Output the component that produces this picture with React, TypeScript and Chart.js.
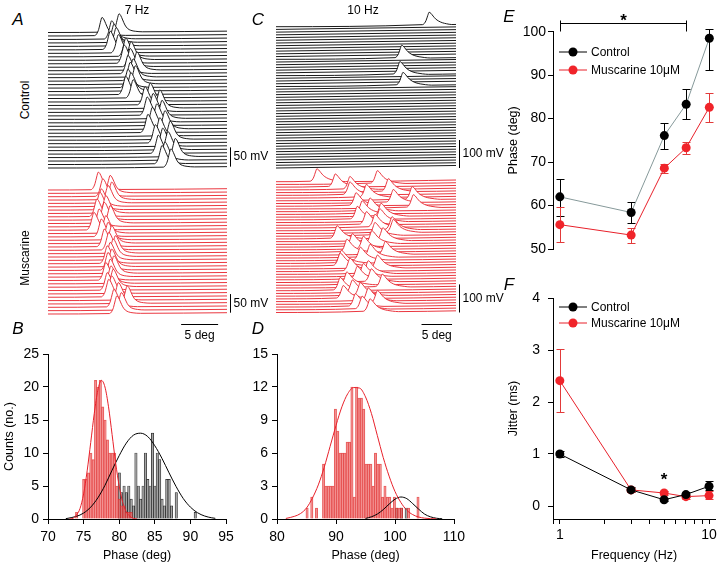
import React, { useEffect, useRef } from 'react';
import { Chart, registerables } from 'chart.js';

Chart.register(...registerables);
const FONT = '"Liberation Sans", Arial, Helvetica, sans-serif';
Chart.defaults.font.family = FONT;
Chart.defaults.color = '#000';

// ================= DATA =================
// Panels A / C : phase of the spike peak in each sweep (deg from sweep start), top sweep first
const A_CTRL_SPIKES = [9.6, 7.3, 8.6, 8.9, 9.2, 8.4, 9.5, 10.5, 11.2, 10.3, 11.1, 12.0, 10.8, 11.5, 11.1, 11.8, 10.8, 11.2, 10.5, 11.5, 13.8, 13.1, 15.1, 14.2, 13.4, 15.4, 14.7, 14.1, 15.8, 13.5, 15.1, 16.5, 14.5, 15.5, 16.2, 14.9, 17.2, 15.8, 15.4, 16.6];
const A_MUSC_SPIKES = [6.8, 8.4, 7.4, 8.6, 8.1, 7.2, 7.0, 7.8, 6.6, 7.6, 8.4, 6.9, 6.2, 7.8, 7.2, 8.1, 8.6, 7.6, 8.2, 9.1, 8.8, 8.4, 8.0, 8.6, 8.1, 8.9, 8.4, 7.8, 8.5, 8.8, 8.0, 8.6, 8.2, 9.5, 10.7, 8.9, 9.9, 9.3];
const C_CTRL_SWEEPS = 53;
const C_CTRL_SPIKE_SWEEP = [0, 12, 18, 22];
const C_CTRL_SPIKE_PHASE = [25.1, 20.6, 20.3, 20.8];
const C_MUSC_SPIKES = [6.7, 16.6, 9.7, 12.1, 18.4, 12.1, 14.8, 22.3, 19.2, 13.1, 22.5, 15.4, 14.1, 17.2, 13.3, 17.0, 14.8, 16.2, 19.0, 19.2, 16.2, 10.0, 17.5, 15.7, 12.5, 14.3, 11.6, 17.9, 15.4, 13.8, 10.7, 10.5, 16.6, 12.1, 15.1, 14.3, 13.3, 15.6, 11.6, 17.4, 10.5, 12.5, 13.8, 11.0, 15.1, 16.6, 13.0, 14.1, 15.4];

// spike waveforms (deg relative to peak, mV above baseline)
const SPIKE_A_DX = [-1.0, -0.7, -0.45, -0.22, 0, 0.22, 0.5, 0.8, 1.15, 1.6, 2.2, 3.2];
const SPIKE_A_MV = [0, 5, 16, 34, 47, 43, 31, 18, 9, 4, 1.5, 0];
const SPIKE_C_DX = [-1.1, -0.8, -0.5, -0.22, 0, 0.28, 0.65, 1.05, 1.55, 2.15, 2.85, 3.7, 4.7];
const SPIKE_C_MV = [0, 4, 15, 33, 44, 40, 30, 20, 12, 6, 2, -1, -3];

const A_SWEEP_DEG = 24.2;
const C_SWEEP_DEG = 29.5;
const A_SWEEP_STEP_MV = 9;
const C_SWEEP_STEP_MV = 9.7;
const A_DRIFT_MV = 3.5;
const C_DRIFT_MV = 9;
const A_VBAR_MV = 50;
const C_VBAR_MV = 100;
const HBAR_DEG = 5;

// Panel B histogram (7 Hz)
const B_BIN_START = 73.85;
const B_BIN_WIDTH = 1 / 3;
const B_MUSC_COUNTS = [1, 0, 0, 6, 6, 7, 10, 9, 21, 20, 21, 17, 15, 12, 10, 10, 10, 5, 3, 2, 2, 1, 1, 1];
const B_CTRL_FIRST_BIN = 18;
const B_CTRL_COUNTS = [7, 4, 5, 4, 5, 3, 2, 10, 5, 3, 5, 10, 6, 5, 13, 5, 10, 9, 3, 2, 6, 6, 2, 0, 4, 0, 0, 0, 0, 0, 0, 0, 1];
const B_MUSC_FIT_X = [73, 73.5, 74, 74.5, 75, 75.5, 76, 76.5, 77, 77.5, 78, 78.5, 79, 79.5, 80, 80.5, 81, 81.5, 82, 82.5];
const B_MUSC_FIT_Y = [0, 0.1, 0.6, 1.6, 3.8, 7.3, 11.6, 16, 19.5, 21, 20, 17, 12.8, 8.5, 5, 2.5, 1.1, 0.4, 0.1, 0];
const B_CTRL_FIT_X = [72.5, 74, 75, 76, 77, 78, 79, 80, 81, 82, 83, 84, 85, 86, 87, 88, 89, 90, 91, 92, 93, 93.5];
const B_CTRL_FIT_Y = [0.05, 0.4, 0.9, 1.8, 3.2, 5.1, 7.4, 9.6, 11.5, 12.7, 13, 12.5, 11.1, 9.2, 7.0, 4.9, 3.1, 1.8, 0.95, 0.45, 0.18, 0.1];

// Panel D histogram (10 Hz)
const D_BIN_START = 84.9;
const D_BIN_WIDTH = 0.4;
const D_MUSC_COUNTS = [1, 0, 2, 0, 1, 0, 0, 5, 3, 3, 3, 3, 10, 8, 6, 6, 6, 7, 7, 12, 2, 12, 11, 11, 10, 5, 5, 5, 3, 6, 5, 5, 2, 3, 2, 2, 1, 2, 1, 1, 1, 0, 0, 1, 0, 0, 0, 2];
const D_CTRL_FIRST_BIN = 38;
const D_CTRL_COUNTS = [1, 0, 1, 0, 1];
const D_MUSC_FIT_X = [81.5, 83, 84, 85, 86, 87, 88, 89, 90, 91, 92, 93, 94, 95, 96, 97, 98, 99, 100, 101, 102, 103, 104, 105, 106, 107];
const D_MUSC_FIT_Y = [0.05, 0.25, 0.5, 1.0, 1.9, 3.1, 4.7, 6.6, 8.5, 10.2, 11.4, 11.95, 11.9, 11.1, 9.6, 7.6, 5.6, 3.9, 2.5, 1.5, 0.8, 0.4, 0.18, 0.08, 0.03, 0.01];
const D_CTRL_FIT_X = [95, 96, 97, 98, 99, 100, 101, 102, 103, 104, 105, 106, 107, 108];
const D_CTRL_FIT_Y = [0.05, 0.2, 0.45, 0.85, 1.35, 1.8, 2.0, 1.85, 1.4, 0.9, 0.45, 0.2, 0.07, 0.02];

// Panels E / F
const FREQ_HZ = [1, 3, 5, 7, 10];
const E_CTRL = [62.0, 58.4, 76.1, 83.3, 98.5];
const E_CTRL_LO = [57.6, 55.9, 73.0, 79.9, 91.2];
const E_CTRL_HI = [66.2, 60.9, 79.1, 86.9, 100.6];
const E_MUSC = [55.6, 53.2, 68.6, 73.3, 82.6];
const E_MUSC_LO = [51.7, 51.4, 67.6, 71.9, 79.3];
const E_MUSC_HI = [59.7, 54.9, 69.6, 74.7, 85.8];
const F_CTRL = [1.0, 0.31, 0.12, 0.22, 0.38];
const F_CTRL_LO = [0.95, 0.26, 0.09, 0.18, 0.3];
const F_CTRL_HI = [1.05, 0.36, 0.15, 0.26, 0.49];
const F_MUSC = [2.41, 0.31, 0.25, 0.18, 0.2];
const F_MUSC_LO = [1.8, 0.27, 0.21, 0.14, 0.13];
const F_MUSC_HI = [3.01, 0.35, 0.29, 0.22, 0.28];
const F_X_TICKS = [0.9, 1, 2, 3, 4, 5, 6, 7, 8, 9, 10];
const F_X_LABELED = [1, 10];
const E_SIG_FROM_HZ = 1;
const E_SIG_TO_HZ = 7;
const F_STAR_HZ = 5;
const F_STAR_Y = 0.59;

// ================= STYLE =================
const RED = '#e8202a';
const RED_MARK = '#f0242a';
const CTRL_LINE_E = '#86999a';

// ================= PLUGINS =================
const traceDecor = {
  id: 'traceDecor',
  afterDatasetsDraw(chart: any, _a: any, o: any) {
    if (!o || !o.vbar) return;
    const { ctx, chartArea, scales } = chart;
    const x = scales.x, y = scales.y;
    ctx.save();
    ctx.strokeStyle = '#000';
    ctx.fillStyle = '#000';
    ctx.lineWidth = 1;
    ctx.font = `12px ${FONT}`;
    const bx = Math.round(chartArea.right + 3) + 0.5;
    const yb = y.getPixelForValue(o.barBase);
    const yt = y.getPixelForValue(o.barBase + o.vbar);
    ctx.beginPath();
    ctx.moveTo(bx, yb);
    ctx.lineTo(bx, yt);
    ctx.stroke();
    ctx.textAlign = 'left';
    ctx.textBaseline = 'middle';
    ctx.fillText(o.vbarLabel, bx + 3, (yb + yt) / 2);
    if (o.hbar) {
      const x2 = x.getPixelForValue(o.hbarEnd);
      const x1 = x.getPixelForValue(o.hbarEnd - o.hbar);
      const hy = Math.round(y.getPixelForValue(o.lastBase) + o.hbarDy) + 0.5;
      ctx.beginPath();
      ctx.moveTo(x1, hy);
      ctx.lineTo(x2, hy);
      ctx.stroke();
      ctx.textAlign = 'center';
      ctx.fillText(o.hbarLabel, (x1 + x2) / 2, hy + 11);
    }
    ctx.restore();
  },
};

const errorBars = {
  id: 'errorBars',
  beforeDatasetsDraw(chart: any) {
    const { ctx, scales } = chart;
    const x = scales.x, y = scales.y;
    chart.data.datasets.forEach((ds: any) => {
      if (!ds.errLo) return;
      ctx.save();
      ctx.strokeStyle = ds.errColor;
      ctx.lineWidth = 1;
      ds.data.forEach((p: any, i: number) => {
        const px = Math.round(x.getPixelForValue(p.x)) + 0.5;
        const lo = Math.round(y.getPixelForValue(ds.errLo[i])) + 0.5;
        const hi = Math.round(y.getPixelForValue(ds.errHi[i])) + 0.5;
        ctx.beginPath();
        ctx.moveTo(px, lo); ctx.lineTo(px, hi);
        ctx.moveTo(px - 4, lo); ctx.lineTo(px + 4, lo);
        ctx.moveTo(px - 4, hi); ctx.lineTo(px + 4, hi);
        ctx.stroke();
      });
      ctx.restore();
    });
  },
};

const annot = {
  id: 'annot',
  afterDatasetsDraw(chart: any, _a: any, o: any) {
    if (!o || !o.items) return;
    const { ctx, chartArea, scales } = chart;
    const x = scales.x, y = scales.y;
    ctx.save();
    o.items.forEach((it: any, k: number) => {
      const cx = chartArea.left + o.lx;
      const cy = chartArea.top + o.ly + k * o.ldy;
      ctx.strokeStyle = it.line;
      ctx.lineWidth = 1;
      ctx.beginPath();
      ctx.moveTo(cx - 14, cy); ctx.lineTo(cx + 14, cy);
      ctx.stroke();
      ctx.fillStyle = it.point;
      ctx.beginPath();
      ctx.arc(cx, cy, 4.5, 0, Math.PI * 2);
      ctx.fill();
      ctx.fillStyle = '#000';
      ctx.font = `12px ${FONT}`;
      ctx.textAlign = 'left';
      ctx.textBaseline = 'middle';
      ctx.fillText(it.label, cx + 18, cy + 0.5);
    });
    ctx.strokeStyle = '#000';
    ctx.fillStyle = '#000';
    ctx.lineWidth = 1;
    ctx.font = `bold 17px ${FONT}`;
    ctx.textAlign = 'center';
    ctx.textBaseline = 'alphabetic';
    if (o.bracket) {
      const x1 = Math.round(x.getPixelForValue(o.bracket.from)) + 0.5;
      const x2 = Math.round(x.getPixelForValue(o.bracket.to)) + 0.5;
      const by = Math.round(chartArea.top + o.bracket.dy) + 0.5;
      ctx.beginPath();
      ctx.moveTo(x1, by); ctx.lineTo(x2, by);
      ctx.moveTo(x1, by - 3); ctx.lineTo(x1, by + 8);
      ctx.moveTo(x2, by - 3); ctx.lineTo(x2, by + 8);
      ctx.stroke();
      ctx.fillText('*', (x1 + x2) / 2, by + 2);
    }
    if (o.star) {
      const sx = x.getPixelForValue(o.star.x);
      const sy = y.getPixelForValue(o.star.y);
      ctx.fillText('*', sx, sy + 10);
    }
    ctx.restore();
  },
};

// ================= BUILDERS =================
function buildSweep(sp: number | null, base: number, p: any) {
  const lvl = (xx: number) => base + (p.drift * xx) / p.sweep;
  const pts: any[] = [{ x: 0, y: lvl(0) }];
  let tail = 0;
  if (sp !== null && sp !== undefined) {
    for (let k = 0; k < p.dx.length; k++) {
      const xx = sp + p.dx[k];
      if (xx <= 0 || xx >= p.sweep) continue;
      pts.push({ x: xx, y: lvl(xx) + p.mv[k] });
      tail = p.mv[k];
    }
  }
  pts.push({ x: p.sweep, y: lvl(p.sweep) + tail });
  return pts;
}

function traceConfig(p: any) {
  const n = p.spikes.length;
  const mvPerPx = p.step / ((p.pN - p.p0) / (n - 1));
  const lastBase = -(n - 1) * p.step;
  const datasets = p.spikes.map((sp: number | null, i: number) => ({
    data: buildSweep(sp, -i * p.step, p),
    borderColor: p.color,
    borderWidth: 0.9,
    pointRadius: 0,
    fill: { value: lastBase },
    backgroundColor: '#ffffff',
    cubicInterpolationMode: 'monotone',
    clip: false,
    order: n - 1 - i,
  }));
  return {
    type: 'line',
    data: { datasets },
    options: {
      animation: false,
      responsive: false,
      devicePixelRatio: 1,
      events: [],
      layout: { padding: { left: p.xL, right: p.w - p.xR, top: 0, bottom: 0 } },
      scales: {
        x: { type: 'linear', display: false, min: 0, max: p.sweep },
        y: { type: 'linear', display: false, min: -(p.h - p.p0) * mvPerPx, max: p.p0 * mvPerPx },
      },
      plugins: {
        legend: { display: false },
        tooltip: { enabled: false },
        traceDecor: {
          vbar: p.vbar,
          vbarLabel: p.vbarLabel,
          barBase: lastBase + (p.barOnDrift ? p.drift : 0),
          hbar: p.hbar,
          hbarLabel: `${p.hbar} deg`,
          hbarEnd: p.sweep - (p.hbarGap || 0),
          hbarDy: p.hbarDy,
          lastBase,
        },
      },
    },
    plugins: [traceDecor],
  };
}

function bins(start: number, width: number, counts: number[], first = 0) {
  const out: any[] = [];
  counts.forEach((c, j) => {
    if (c > 0) out.push({ x: start + (first + j + 0.5) * width, y: c });
  });
  return out;
}
const pairs = (xs: number[], ys: number[]) => xs.map((v, i) => ({ x: v, y: ys[i] }));

const tickFont = { size: 14, family: FONT };
const titleFont = { size: 12.5, family: FONT };
function axis(extra: any) {
  return {
    border: { display: true, color: '#000', width: 1 },
    grid: { display: true, drawOnChartArea: false, drawTicks: true, tickLength: 5, color: '#000', tickColor: '#000', offset: false },
    ...extra,
  };
}

function histConfig(p: any) {
  return {
    type: 'bar',
    data: {
      datasets: [
        { type: 'bar', data: p.ctrlBars, backgroundColor: '#a4a4a4', borderColor: '#222', borderWidth: 0.7, grouped: false, barPercentage: 1, categoryPercentage: 1, order: 3 },
        { type: 'bar', data: p.muscBars, backgroundColor: 'rgba(242,110,110,0.48)', borderColor: 'rgba(222,40,40,0.75)', borderWidth: 0.6, grouped: false, barPercentage: 1, categoryPercentage: 1, order: 2 },
        { type: 'line', data: p.ctrlFit, borderColor: '#000', borderWidth: 1, pointRadius: 0, cubicInterpolationMode: 'monotone', fill: false, order: 1 },
        { type: 'line', data: p.muscFit, borderColor: RED, borderWidth: 1, pointRadius: 0, cubicInterpolationMode: 'monotone', fill: false, order: 0 },
      ],
    },
    options: {
      animation: false,
      responsive: false,
      devicePixelRatio: 1,
      events: [],
      layout: { padding: { left: 0, right: p.padR, top: p.padT, bottom: 0 } },
      scales: {
        x: axis({
          type: 'linear', min: p.xmin, max: p.xmax, offset: false,
          ticks: { stepSize: p.xstep, font: tickFont, color: '#000', padding: 5, maxRotation: 0 },
          title: { display: true, text: 'Phase (deg)', font: titleFont, color: '#000', padding: { top: 0, bottom: 0 } },
          afterFit: (s: any) => { s.height = 44; },
        }),
        y: axis({
          type: 'linear', min: 0, max: p.ymax,
          ticks: { stepSize: p.ystep, font: tickFont, color: '#000', padding: 4 },
          title: { display: !!p.ytitle, text: p.ytitle || '', font: titleFont, color: '#000', padding: { top: 2, bottom: 0 } },
          afterFit: (s: any) => { s.width = p.yw; },
        }),
      },
      plugins: { legend: { display: false }, tooltip: { enabled: false } },
    },
  };
}

function freqConfig(p: any) {
  const ds = (vals: number[], lo: number[], hi: number[], line: string, mark: string, err: string, order: number) => ({
    data: pairs(FREQ_HZ, vals),
    borderColor: line,
    borderWidth: 1,
    pointRadius: 4.5,
    pointBackgroundColor: mark,
    pointBorderColor: mark,
    pointBorderWidth: 0,
    fill: false,
    clip: false,
    errLo: lo,
    errHi: hi,
    errColor: err,
    order,
  });
  return {
    type: 'line',
    data: {
      datasets: [
        ds(p.ctrl, p.ctrlLo, p.ctrlHi, p.ctrlLine, '#000', '#000', 0),
        ds(p.musc, p.muscLo, p.muscHi, RED, RED_MARK, '#e23a3a', 1),
      ],
    },
    options: {
      animation: false,
      responsive: false,
      devicePixelRatio: 1,
      events: [],
      layout: { padding: { left: 0, right: 3, top: p.padT, bottom: p.padB } },
      scales: {
        x: p.showX
          ? axis({
              type: 'logarithmic', min: 0.9, max: 11,
              afterBuildTicks: (s: any) => { s.ticks = F_X_TICKS.map((v) => ({ value: v })); },
              ticks: { autoSkip: false, maxRotation: 0, font: tickFont, color: '#000', padding: 3, callback: (v: any) => (F_X_LABELED.includes(Number(v)) ? String(v) : '') },
              title: { display: true, text: 'Frequency (Hz)', font: titleFont, color: '#000', padding: { top: 0, bottom: 0 } },
              afterFit: (s: any) => { s.height = 44; },
            })
          : { type: 'logarithmic', min: 0.9, max: 11, display: false },
        y: axis({
          type: 'linear', min: p.ymin, max: p.ymax,
          afterBuildTicks: (s: any) => { s.ticks = p.yticks.map((v: number) => ({ value: v })); },
          ticks: { font: tickFont, color: '#000', padding: p.ypad },
          title: { display: true, text: p.ytitle, font: titleFont, color: '#000', padding: { top: 26, bottom: 0 } },
          afterFit: (s: any) => { s.width = 73; },
        }),
      },
      plugins: {
        legend: { display: false },
        tooltip: { enabled: false },
        annot: {
          lx: 20, ly: p.legY, ldy: p.legDy,
          items: [
            { label: 'Control', line: '#000', point: '#000' },
            { label: 'Muscarine 10\u03bcM', line: RED, point: RED_MARK },
          ],
          bracket: p.bracket,
          star: p.star,
        },
      },
    },
    plugins: [errorBars, annot],
  };
}

// ================= COMPONENTS =================
function ChartCanvas({ left, top, width, height, make }: any) {
  const ref = useRef<HTMLCanvasElement>(null);
  useEffect(() => {
    const chart = new Chart(ref.current as HTMLCanvasElement, make());
    return () => chart.destroy();
  }, []);
  return (
    <canvas
      ref={ref}
      width={width}
      height={height}
      style={{ position: 'absolute', left, top, width, height }}
    />
  );
}

function Label({ x, y, text, size = 12, italic = false, rotate = false }: any) {
  return (
    <div
      style={{
        position: 'absolute', left: x, top: y,
        transform: `translate(-50%, -50%)${rotate ? ' rotate(-90deg)' : ''}`,
        fontSize: size, fontStyle: italic ? 'italic' : 'normal',
        whiteSpace: 'nowrap', lineHeight: 1, fontFamily: FONT, color: '#000',
      }}
    >
      {text}
    </div>
  );
}

const cCtrlSpikes: (number | null)[] = Array.from({ length: C_CTRL_SWEEPS }, (_, i) => {
  const k = C_CTRL_SPIKE_SWEEP.indexOf(i);
  return k >= 0 ? C_CTRL_SPIKE_PHASE[k] : null;
});

const A_BASE = { dx: SPIKE_A_DX, mv: SPIKE_A_MV, sweep: A_SWEEP_DEG, step: A_SWEEP_STEP_MV, drift: A_DRIFT_MV, vbar: A_VBAR_MV, vbarLabel: `${A_VBAR_MV} mV`, barOnDrift: true, w: 240, xL: 8, xR: 187 };
const C_BASE = { dx: SPIKE_C_DX, mv: SPIKE_C_MV, sweep: C_SWEEP_DEG, step: C_SWEEP_STEP_MV, drift: C_DRIFT_MV, vbar: C_VBAR_MV, vbarLabel: `${C_VBAR_MV} mV`, barOnDrift: false, w: 250, xL: 6, xR: 186 };

export default function App() {
  return (
    <div style={{ position: 'fixed', left: 0, top: 0, width: 720, height: 563, background: '#fff', overflow: 'hidden', fontFamily: FONT }}>
      <ChartCanvas left={40} top={0} width={240} height={176}
        make={() => traceConfig({ ...A_BASE, spikes: A_CTRL_SPIKES, color: '#000', h: 176, p0: 32.5, pN: 168 })} />
      <ChartCanvas left={40} top={166} width={240} height={180}
        make={() => traceConfig({ ...A_BASE, spikes: A_MUSC_SPIKES, color: RED, h: 180, p0: 24, pN: 148, hbar: HBAR_DEG, hbarGap: 1.2, hbarDy: 10 })} />
      <ChartCanvas left={270} top={0} width={250} height={176}
        make={() => traceConfig({ ...C_BASE, spikes: cCtrlSpikes, color: '#000', h: 176, p0: 26.7, pN: 168 })} />
      <ChartCanvas left={270} top={166} width={250} height={180}
        make={() => traceConfig({ ...C_BASE, spikes: C_MUSC_SPIKES, color: RED, h: 180, p0: 15.7, pN: 146.5, hbar: HBAR_DEG, hbarGap: 0.65, hbarDy: 11.5 })} />

      <ChartCanvas left={0} top={340} width={240} height={223}
        make={() => histConfig({
          ctrlBars: bins(B_BIN_START, B_BIN_WIDTH, B_CTRL_COUNTS, B_CTRL_FIRST_BIN),
          muscBars: bins(B_BIN_START, B_BIN_WIDTH, B_MUSC_COUNTS),
          ctrlFit: pairs(B_CTRL_FIT_X, B_CTRL_FIT_Y),
          muscFit: pairs(B_MUSC_FIT_X, B_MUSC_FIT_Y),
          xmin: 70, xmax: 95, xstep: 5, ymax: 25, ystep: 5, ytitle: 'Counts (no.)',
          yw: 48, padR: 14, padT: 14,
        })} />
      <ChartCanvas left={240} top={340} width={240} height={223}
        make={() => histConfig({
          ctrlBars: bins(D_BIN_START, D_BIN_WIDTH, D_CTRL_COUNTS, D_CTRL_FIRST_BIN),
          muscBars: bins(D_BIN_START, D_BIN_WIDTH, D_MUSC_COUNTS),
          ctrlFit: pairs(D_CTRL_FIT_X, D_CTRL_FIT_Y),
          muscFit: pairs(D_MUSC_FIT_X, D_MUSC_FIT_Y),
          xmin: 80, xmax: 110, xstep: 10, ymax: 15, ystep: 3, ytitle: '',
          yw: 37, padR: 26, padT: 14,
        })} />

      <ChartCanvas left={480} top={0} width={240} height={280}
        make={() => freqConfig({
          ctrl: E_CTRL, ctrlLo: E_CTRL_LO, ctrlHi: E_CTRL_HI, musc: E_MUSC, muscLo: E_MUSC_LO, muscHi: E_MUSC_HI,
          ctrlLine: CTRL_LINE_E, showX: false, ymin: 50, ymax: 100, yticks: [50, 60, 70, 80, 90, 100], ypad: 2,
          ytitle: 'Phase (deg)', padT: 31.7, padB: 31, legY: 20.3, legDy: 18,
          bracket: { from: E_SIG_FROM_HZ, to: E_SIG_TO_HZ, dy: -8.5 },
        })} />
      <ChartCanvas left={480} top={280} width={240} height={283}
        make={() => freqConfig({
          ctrl: F_CTRL, ctrlLo: F_CTRL_LO, ctrlHi: F_CTRL_HI, musc: F_MUSC, muscLo: F_MUSC_LO, muscHi: F_MUSC_HI,
          ctrlLine: '#000', showX: true, ymin: -0.25, ymax: 4, yticks: [0, 1, 2, 3, 4], ypad: 8,
          ytitle: 'Jitter (ms)', padT: 18, padB: 0, legY: 9, legDy: 16,
          star: { x: F_STAR_HZ, y: F_STAR_Y },
        })} />

      <Label x={18} y={19} text="A" size={17} italic />
      <Label x={137} y={10} text="7 Hz" />
      <Label x={258} y={19} text="C" size={17} italic />
      <Label x={363} y={10} text="10 Hz" />
      <Label x={18} y={328} text="B" size={17} italic />
      <Label x={258} y={328} text="D" size={17} italic />
      <Label x={509} y={16} text="E" size={17} italic />
      <Label x={509} y={284} text="F" size={17} italic />
      <Label x={25} y={100} text="Control" rotate />
      <Label x={25} y={258} text="Muscarine" rotate />
    </div>
  );
}
